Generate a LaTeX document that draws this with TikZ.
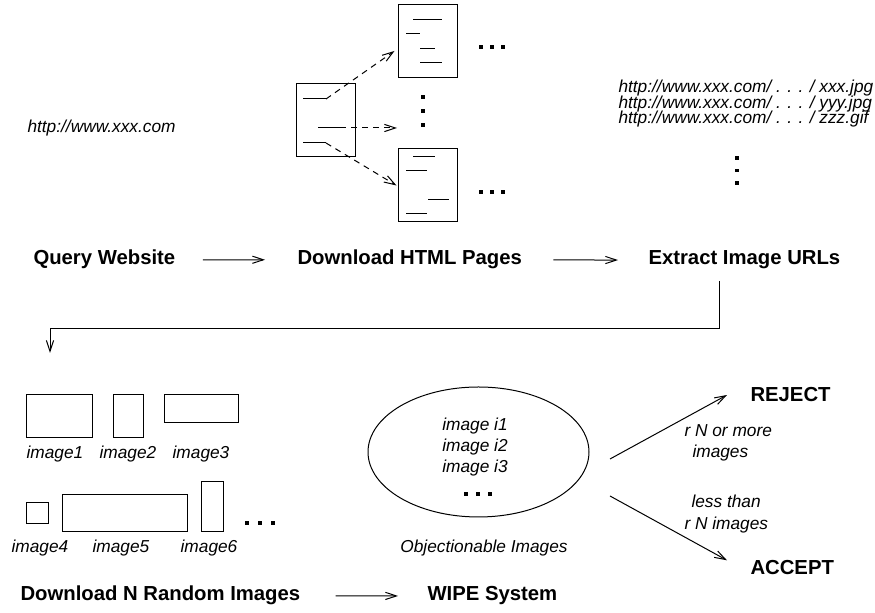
\documentclass[tikz,border=0pt]{standalone}
\usepackage{fontspec}
\setmainfont{Liberation Sans}
\usetikzlibrary{arrows.meta}
\usetikzlibrary{positioning}
\usetikzlibrary{shapes.geometric}

\tikzset{
  stage/.style={font=\bfseries\fontsize{10.15}{12}\selectfont,inner sep=0pt,anchor=base west},
  note/.style={font=\itshape\fontsize{8.65}{10.4}\selectfont,inner sep=0pt,anchor=base west},
  flow/.style={-{Straight Barb[length=5.5pt,width=3.6pt]}},
  link/.style={flow,dash pattern=on 3pt off 2.5pt},
  page/.style={draw,minimum width=29.5pt,minimum height=36.5pt,inner sep=0pt}
}

\begin{document}
\begin{tikzpicture}[x=0.5pt,y=-0.5pt,line width=0.5pt]
  \useasboundingbox (0,0) rectangle (875,613);

  % web site and html pages
  \node[note] (site) at (27,133) {http://www.xxx.com};
  \node[page] (srcpage) at (325.5,120.5) {};
  \node[page] (toppage) at (427.5,41.5) {};
  \node[page] (botpage) at (427.5,185.5) {};
  \draw (303,99) -- (326,99) (318,128) -- (340,128) (303,143) -- (326,143);
  \draw (413,20) -- (442,20) (406,34) -- (420,34) (420,49) -- (435,49) (420,63) -- (442,63);
  \draw (413,157) -- (435,157) (406,171) -- (427,171) (428,200) -- (449,200) (406,214) -- (427,214);
  \coordinate (l1) at (326,99);
  \coordinate (l2) at (340,128);
  \coordinate (l3) at (326,143);
  \coordinate (more) at (397,128);
  \draw[link] (l1) -- ([xshift=-1.5pt,yshift=-4.75pt]toppage.west);
  \draw[link] (l2) -- (more);
  \draw[link] (l3) -- ([xshift=-0.5pt]botpage.west);
  \foreach \x in {481,492,503} {
    \fill (\x,47) +(-1.7,-1.7) rectangle +(1.7,1.7);
    \fill (\x,192) +(-1.7,-1.7) rectangle +(1.7,1.7);
  }
  \foreach \y in {97,111,125}
    \fill (423,\y) +(-1.7,-1.7) rectangle +(1.7,1.7);

  % image urls
  \node[note] (url1) at (618,93) {http://www.xxx.com/ . . . / xxx.jpg};
  \node[note] (url2) at (618,108.5) {http://www.xxx.com/ . . . / yyy.jpg};
  \node[note] (url3) at (618,124) {http://www.xxx.com/ . . . / zzz.gif};
  \foreach \y in {158,170.5,183}
    \fill (737,\y) +(-1.7,-1.7) rectangle +(1.7,1.7);

  % first row of steps
  \node[stage] (query) at (33,265) {Query Website};
  \node[stage] (html) at (297,265) {Download HTML Pages};
  \node[stage] (extract) at (648,265) {Extract Image URLs};
  \draw[flow,shorten <=13.5pt,shorten >=16pt] (query.east) -- (html.west);
  \draw[flow,shorten <=15.5pt,shorten >=15pt] (html.east) -- (extract.west);
  \coordinate (drop) at (719,281);
  \coordinate (imgin) at (50,353);
  \draw[flow] (drop) -- ++(0,48) -| (imgin);

  % random images
  \draw (26,395) rectangle (92,438);
  \draw (113,395) rectangle (143,438);
  \draw (164,395) rectangle (238,423);
  \draw (26,503) rectangle (48,524);
  \draw (62,495) rectangle (187,532);
  \draw (201,482) rectangle (223,532);
  \node[note,anchor=base] (cap1) at (55,459) {image1};
  \node[note,anchor=base] (cap2) at (128,459) {image2};
  \node[note,anchor=base] (cap3) at (201,459) {image3};
  \node[note,anchor=base] (cap4) at (40,553) {image4};
  \node[note,anchor=base] (cap5) at (121,553) {image5};
  \node[note,anchor=base] (cap6) at (209,553) {image6};
  \foreach \x in {247,260,273}
    \fill (\x,523) +(-1.7,-1.7) rectangle +(1.7,1.7);

  % objectionable set
  \node[draw,ellipse,minimum width=110.5pt,minimum height=65pt] (wipeset) at (478.5,452) {};
  \node[note,anchor=base] (i1) at (475,431) {image i1};
  \node[note,anchor=base] (i2) at (475,452) {image i2};
  \node[note,anchor=base] (i3) at (475,473) {image i3};
  \foreach \x in {466,478,490}
    \fill (\x,494) +(-1.7,-1.7) rectangle +(1.7,1.7);
  \node[note,anchor=base] (objlabel) at (484,553) {Objectionable Images};

  % decision
  \node[stage] (reject) at (750,402) {REJECT};
  \node[stage] (accept) at (750,575) {ACCEPT};
  \coordinate (rejfrom) at (610,459);
  \coordinate (accfrom) at (610,496);
  \draw[flow] (rejfrom) -- ([xshift=-11.5pt]reject.west);
  \draw[flow] (accfrom) -- ([xshift=-11.5pt,yshift=3.85pt]accept.west);
  \node[note] (more1) at (684,437) {r N or more};
  \node[note] (more2) at (692,458) {images};
  \node[note] (less1) at (691,508) {less than};
  \node[note] (less2) at (684,530) {r N images};

  % last row of steps
  \node[stage] (random) at (20,601) {Download N Random Images};
  \node[stage] (wipe) at (427,601) {WIPE System};
  \draw[flow,shorten <=17.5pt,shorten >=14.5pt] (random.east) -- (wipe.west);
\end{tikzpicture}
\end{document}
